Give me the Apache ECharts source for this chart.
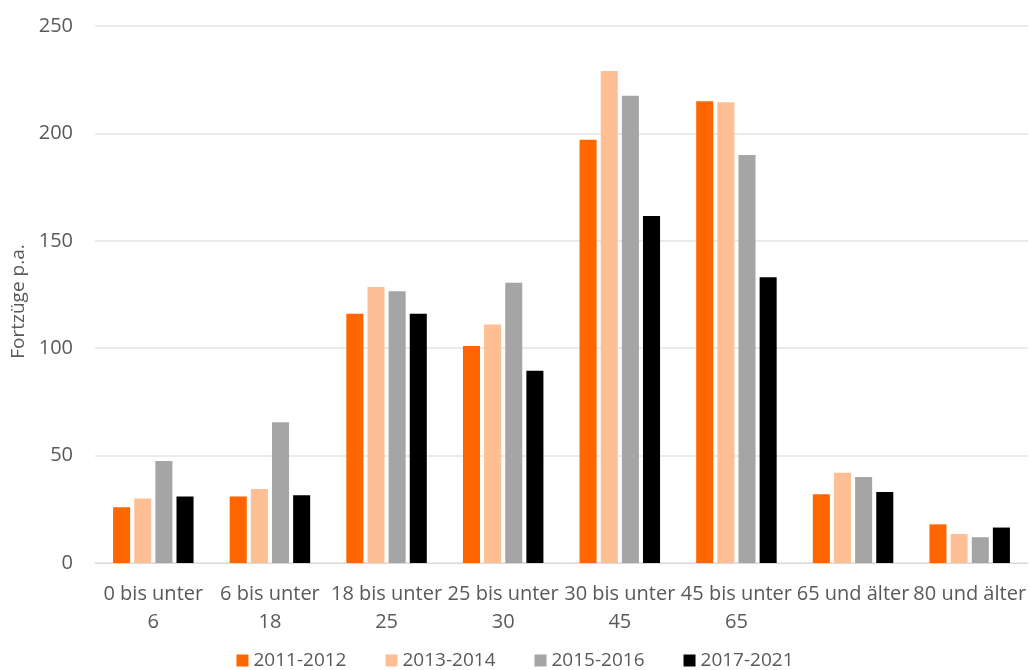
<!DOCTYPE html>
<html>
<head>
<meta charset="utf-8">
<script src="https://cdn.jsdelivr.net/npm/echarts@6/dist/echarts.min.js"></script>
<style>
  html, body { margin: 0; padding: 0; background: #fff; }
  #chart { width: 1030px; height: 670px; }
</style>
</head>
<body>
<div id="chart"></div>
<script>
// Age groups (x axis)
const categories = [
  '0 bis unter\n6', '6 bis unter\n18', '18 bis unter\n25', '25 bis unter\n30',
  '30 bis unter\n45', '45 bis unter\n65', '65 und älter', '80 und älter'
];
// Departures per year by period
const s2011_2012 = [26, 31, 116, 101, 197, 215, 32, 18];
const s2013_2014 = [30, 34.5, 128.5, 111, 229, 214.5, 42, 13.5];
const s2015_2016 = [47.5, 65.5, 126.5, 130.5, 217.5, 190, 40, 12];
const s2017_2021 = [31, 31.5, 116, 89.5, 161.5, 133, 33, 16.5];
const seriesNames = ['2011-2012', '2013-2014', '2015-2016', '2017-2021'];
const seriesColors = ['#FF6600', '#FFBF94', '#A5A5A5', '#000000'];
const yTicks = { min: 0, max: 250, interval: 50 };

const textColor = '#595959';
const fontFamily = '"Open Sans", "Noto Sans", sans-serif';
const allData = [s2011_2012, s2013_2014, s2015_2016, s2017_2021];

const chart = echarts.init(document.getElementById('chart'));
chart.setOption({
  animation: false,
  textStyle: { fontFamily: fontFamily },
  grid: { left: 95, right: 2, top: 26, bottom: 107, containLabel: false },
  legend: {
    top: 651,
    left: 'center',
    icon: 'rect',
    itemWidth: 12,
    itemHeight: 12,
    itemGap: 39,
    padding: 0,
    textStyle: { color: textColor, fontSize: 19, fontFamily: fontFamily },
    data: seriesNames
  },
  xAxis: {
    type: 'category',
    data: categories,
    axisLine: { lineStyle: { color: '#d9d9d9', width: 1 } },
    axisTick: { show: false },
    axisLabel: {
      color: textColor, fontSize: 20, lineHeight: 27.5, margin: 18,
      interval: 0, fontFamily: fontFamily
    }
  },
  yAxis: {
    type: 'value',
    min: yTicks.min, max: yTicks.max, interval: yTicks.interval,
    name: 'Fortzüge p.a.',
    nameLocation: 'middle',
    nameGap: 67,
    nameRotate: 90,
    nameTextStyle: {
      color: textColor, fontSize: 19, fontFamily: fontFamily,
      padding: [0, 14, 0, 0]
    },
    axisLine: { show: false },
    axisTick: { show: false },
    splitLine: { lineStyle: { color: '#e3e3e3', width: 1.5 } },
    axisLabel: { color: textColor, fontSize: 20, margin: 22, fontFamily: fontFamily }
  },
  series: seriesNames.map((name, i) => ({
    name: name,
    type: 'bar',
    data: allData[i],
    barGap: '24%',
    barCategoryGap: '31%',
    itemStyle: { color: seriesColors[i] }
  }))
});
</script>
</body>
</html>
